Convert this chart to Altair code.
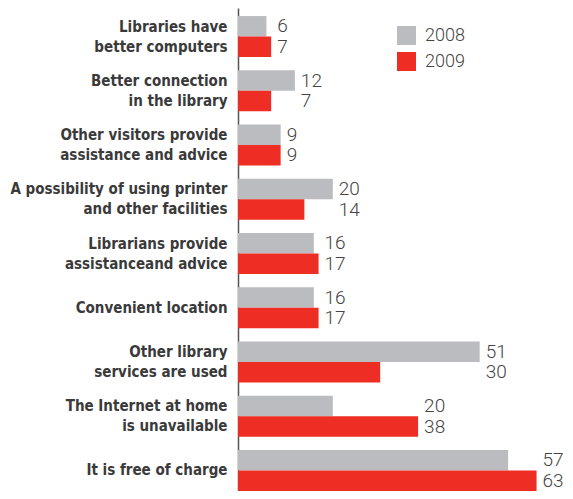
import altair as alt
import pandas as pd

categories = [
    "Libraries have|better computers",
    "Better connection|in the library",
    "Other visitors provide|assistance and advice",
    "A possibility of using printer|and other facilities",
    "Librarians provide|assistanceand advice",
    "Convenient location",
    "Other library|services are used",
    "The Internet at home|is unavailable",
    "It is free of charge",
]
v2008 = [6, 12, 9, 20, 16, 16, 51, 20, 57]
v2009 = [7, 7, 9, 14, 17, 17, 30, 38, 63]
years = ["2008", "2009"]
colors = ["#bbbcc0", "#ee2d24"]

rows = []
for c, a, b in zip(categories, v2008, v2009):
    m = max(a, b)
    rows.append({"cat": c, "year": years[0], "value": a, "gmax": m})
    rows.append({"cat": c, "year": years[1], "value": b, "gmax": m})
df = pd.DataFrame(rows)

LABEL_FONT = "DejaVu Sans Condensed, sans-serif"
NUM_FONT = "Roboto, sans-serif"

y_enc = alt.Y(
    "cat:N",
    sort=categories,
    scale=alt.Scale(domain=categories, paddingInner=0.244, paddingOuter=0.074, align=1),
    axis=alt.Axis(
        title=None,
        labelExpr="split(datum.label, '|')",
        labelFont=LABEL_FONT,
        labelFontSize=15,
        labelFontWeight="bold",
        labelColor="#3a3a3a",
        labelLineHeight=20,
        labelLimit=400,
        labelPadding=11,
        labelOffset={"condition": {"test": "indexof(datum.value, '|') >= 0", "value": -10}, "value": 0},
        ticks=False,
        domainColor="#555555",
        domainWidth=1.5,
        grid=False,
    ),
)
yoff = alt.YOffset("year:N", sort=years, scale=alt.Scale(domain=years, paddingInner=0, paddingOuter=0))
x_scale = alt.Scale(domain=[0, 69], nice=False)

bars = alt.Chart(df).mark_bar(size=20.5).encode(
    x=alt.X("value:Q", scale=x_scale, axis=None),
    y=y_enc,
    yOffset=yoff,
    color=alt.Color(
        "year:N",
        scale=alt.Scale(domain=years, range=colors),
        legend=alt.Legend(
            title=None,
            orient="none",
            legendX=159,
            legendY=18,
            symbolType="square",
            symbolSize=361,
            symbolStrokeWidth=0,
            labelFont=NUM_FONT,
            labelFontWeight=300,
            labelFontSize=18,
            labelColor="#444444",
            labelOffset=9,
            rowPadding=7,
            padding=0,
        ),
    ),
)

labels = alt.Chart(df).mark_text(
    align="left", baseline="middle", dx=6, font=NUM_FONT, fontWeight=300,
    fontSize=19, color="#444444"
).encode(
    x=alt.X("gmax:Q", scale=x_scale, axis=None),
    y=y_enc,
    yOffset=yoff,
    text="value:Q",
)

chart = (
    alt.layer(bars, labels)
    .properties(
        width=327,
        height=483,
        autosize=alt.AutoSizeParams(type="none"),
        padding={"left": 230, "top": 0, "right": 0, "bottom": 0},
    )
    .configure_view(stroke=None)
)

chart.save("out.html", embed_options={"renderer": "svg", "actions": False})
